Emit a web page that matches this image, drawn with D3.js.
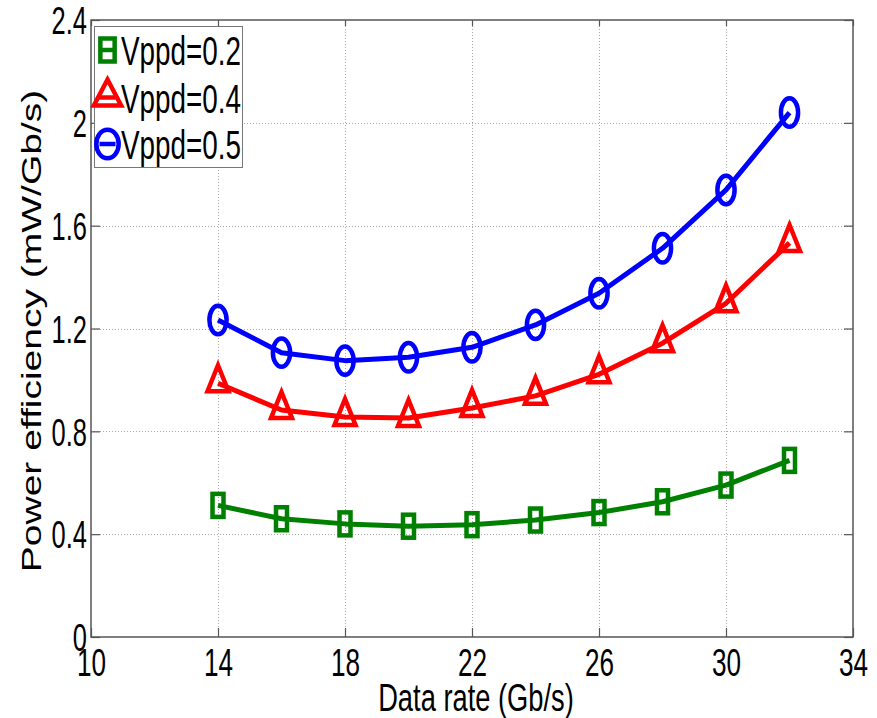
<!DOCTYPE html>
<html>
<head>
<meta charset="utf-8">
<script src="https://cdn.jsdelivr.net/npm/d3@7/dist/d3.min.js"></script>
<style>
  html, body { margin: 0; padding: 0; background: #fff; }
  svg { display: block; }
  text { font-family: "Liberation Sans", Arial, Helvetica, sans-serif; fill: #000; }
</style>
</head>
<body>
<svg id="chart" width="877" height="718"></svg>
<script>
// Data rate (Gb/s)
const dataRates = [14, 16, 18, 20, 22, 24, 26, 28, 30, 32];
// Power efficiency (mW/Gb/s) per swing setting
const vppd02 = [0.512, 0.460, 0.440, 0.431, 0.437, 0.455, 0.484, 0.526, 0.591, 0.687];
const vppd04 = [0.987, 0.883, 0.856, 0.852, 0.891, 0.938, 1.022, 1.143, 1.298, 1.533];
const vppd05 = [1.233, 1.106, 1.075, 1.088, 1.127, 1.214, 1.337, 1.512, 1.739, 2.040];
const seriesNames = ["Vppd=0.2", "Vppd=0.4", "Vppd=0.5"];
const xTicks = [10, 14, 18, 22, 26, 30, 34];
const yTicks = [0, 0.4, 0.8, 1.2, 1.6, 2.0, 2.4];
const yTickLabels = ["0", "0.4", "0.8", "1.2", "1.6", "2", "2.4"];

const series = [
  { name: seriesNames[0], values: vppd02, color: "#008000", marker: "square" },
  { name: seriesNames[1], values: vppd04, color: "#ff0000", marker: "triangle" },
  { name: seriesNames[2], values: vppd05, color: "#0000ff", marker: "circle" }
];

const svg = d3.select("#chart");
const x = d3.scaleLinear().domain([10, 34]).range([91, 853]);
const y = d3.scaleLinear().domain([0, 2.4]).range([637, 20]);
const x0 = x.range()[0], x1 = x.range()[1], y0 = y.range()[0], y1 = y.range()[1];
const squeeze = 0.67;

svg.append("rect").attr("width", 877).attr("height", 718).attr("fill", "#fff");

// dotted grid
const grid = svg.append("g").attr("stroke", "#a8a8a8").attr("stroke-width", 1)
  .attr("stroke-dasharray", "1,2").attr("fill", "none");
grid.selectAll("line.gx").data(xTicks.slice(1, -1)).join("line")
  .attr("x1", d => Math.round(x(d)) + 0.5).attr("x2", d => Math.round(x(d)) + 0.5)
  .attr("y1", y1).attr("y2", y0);
grid.selectAll("line.gy").data(yTicks.slice(1, -1)).join("line")
  .attr("y1", d => Math.round(y(d)) + 0.5).attr("y2", d => Math.round(y(d)) + 0.5)
  .attr("x1", x0).attr("x2", x1);

// axes with inward ticks on all four sides
const axisColor = "#555";
function styleAxis(g) {
  g.select(".domain").remove();
  g.selectAll(".tick line").attr("stroke", axisColor).attr("stroke-width", 1.2);
}
const xAxis = svg.append("g").attr("transform", `translate(0,${y0})`)
  .call(d3.axisBottom(x).tickValues(xTicks).tickSizeInner(-9).tickSizeOuter(0).tickFormat(d3.format("d")));
styleAxis(xAxis);
xAxis.selectAll(".tick text")
  .attr("y", null).attr("dy", null)
  .attr("transform", `translate(0,39) scale(${squeeze},1)`)
  .style("font-size", "39px").attr("text-anchor", "middle").attr("fill", "#000");

const yAxis = svg.append("g").attr("transform", `translate(${x0},0)`)
  .call(d3.axisLeft(y).tickValues(yTicks).tickSizeInner(-9).tickSizeOuter(0)
    .tickFormat((d, i) => yTickLabels[i]));
styleAxis(yAxis);
yAxis.selectAll(".tick text")
  .attr("x", null).attr("dy", "0.36em")
  .attr("transform", `translate(-4,0) scale(${squeeze},1)`)
  .style("font-size", "38px").attr("text-anchor", "end").attr("fill", "#000");

const topAxis = svg.append("g").attr("transform", `translate(0,${y1})`)
  .call(d3.axisTop(x).tickValues(xTicks).tickSizeInner(-6).tickSizeOuter(0).tickFormat(""));
styleAxis(topAxis);
const rightAxis = svg.append("g").attr("transform", `translate(${x1},0)`)
  .call(d3.axisRight(y).tickValues(yTicks).tickSizeInner(-9).tickSizeOuter(0).tickFormat(""));
styleAxis(rightAxis);

// plot box
svg.append("rect").attr("x", x0).attr("y", y1).attr("width", x1 - x0).attr("height", y0 - y1)
  .attr("fill", "none").attr("stroke", axisColor).attr("stroke-width", 1.5);

// axis titles
svg.append("text")
  .attr("transform", `translate(476,711) scale(0.70,1)`)
  .attr("text-anchor", "middle").style("font-size", "39px")
  .text("Data rate (Gb/s)");
svg.append("text")
  .attr("transform", `translate(41,331) rotate(-90) scale(1,0.72)`)
  .attr("text-anchor", "middle").style("font-size", "39px")
  .text("Power efficiency (mW/Gb/s)");

// marker shapes
function drawMarker(g, type, color, k) {
  const sw = 4.5;
  if (type === "square") {
    g.append("rect").attr("x", -5.5 * k).attr("y", -11.5).attr("width", 11 * k).attr("height", 23)
      .attr("fill", "none").attr("stroke", color).attr("stroke-width", sw);
  } else if (type === "triangle") {
    g.append("path").attr("d", `M0,-18 L${10.5 * k},8 L${-10.5 * k},8 Z`)
      .attr("fill", "none").attr("stroke", color).attr("stroke-width", sw)
      .attr("stroke-linejoin", "miter");
  } else {
    g.append("ellipse").attr("rx", 8.6 * k).attr("ry", 14.2)
      .attr("fill", "none").attr("stroke", color).attr("stroke-width", sw);
  }
}

const line = d3.line().x((d, i) => x(dataRates[i])).y(d => y(d));
const plot = svg.append("g");
series.forEach(s => {
  plot.append("path").datum(s.values).attr("d", line)
    .attr("fill", "none").attr("stroke", s.color).attr("stroke-width", 5)
    .attr("stroke-linejoin", "round");
  s.values.forEach((v, i) => {
    const g = plot.append("g").attr("transform", `translate(${x(dataRates[i])},${y(v)})`);
    drawMarker(g, s.marker, s.color, 1);
  });
});

// legend
const legend = svg.append("g");
legend.append("rect").attr("x", 94.5).attr("y", 26.5).attr("width", 148).attr("height", 141)
  .attr("fill", "#fff").attr("stroke", "#777").attr("stroke-width", 1);
const legendRowY = [50, 97.5, 144];
series.forEach((s, i) => {
  const cy = legendRowY[i];
  const g = legend.append("g").attr("transform", `translate(107.5,${cy})`);
  g.append("line").attr("x1", -8).attr("x2", 8).attr("y1", 0).attr("y2", 0)
    .attr("stroke", s.color).attr("stroke-width", 4.5);
  drawMarker(g, s.marker, s.color, 1.3);
  legend.append("text")
    .attr("transform", `translate(121,${cy + 15}) scale(0.68,1)`)
    .style("font-size", "41px")
    .text(s.name);
});
</script>
</body>
</html>
